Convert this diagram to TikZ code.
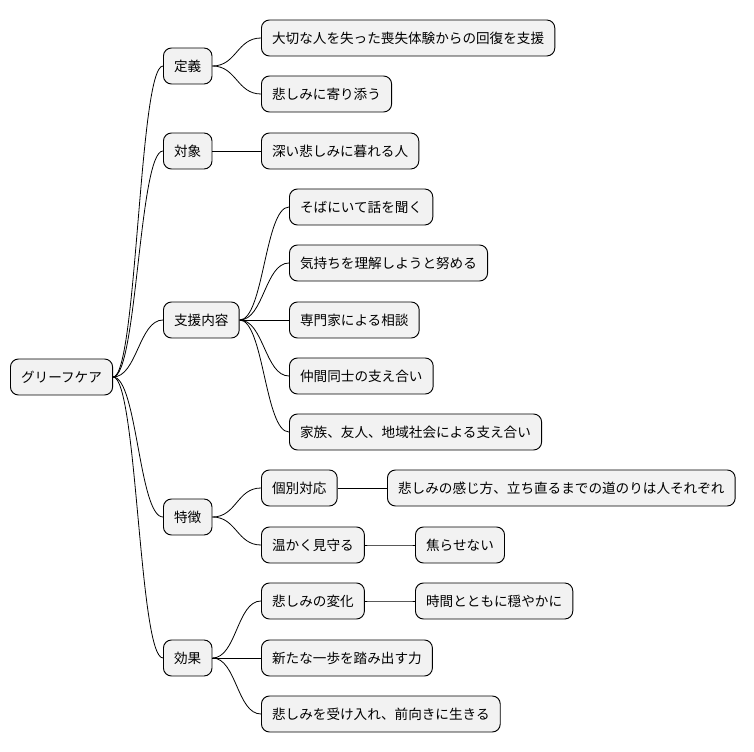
\documentclass[tikz,border=0pt]{standalone}
\usepackage{fontspec}
\newfontfamily\jp{Noto Sans CJK JP}
\begin{document}
\begin{tikzpicture}[x=0.75pt,y=-0.75pt,font=\jp\fontsize{10.2}{12}\selectfont,
  topic/.style={draw,rounded corners=6pt,fill=gray!10,minimum height=27pt,inner xsep=8pt,anchor=west,line width=0.7pt},
  link/.style={line width=0.6pt}]

\useasboundingbox (0,0) rectangle (754,752);

\node [topic] (root) at (10,377) {グリーフケア};

\node [topic] (def) at (163,66) {定義};
\node [topic] (def_A) at (261,38) {大切な人を失った喪失体験からの回復を支援};
\node [topic] (def_B) at (261,94) {悲しみに寄り添う};

\node [topic] (tgt) at (163,151) {対象};
\node [topic] (tgt_A) at (261,151) {深い悲しみに暮れる人};

\node [topic] (sup) at (163,320) {支援内容};
\node [topic] (sup_A) at (289,207) {そばにいて話を聞く};
\node [topic] (sup_B) at (289,263) {気持ちを理解しようと努める};
\node [topic] (sup_C) at (289,320) {専門家による相談};
\node [topic] (sup_D) at (289,376) {仲間同士の支え合い};
\node [topic] (sup_E) at (289,432) {家族、友人、地域社会による支え合い};

\node [topic] (feat) at (163,517) {特徴};
\node [topic] (feat_A) at (261,488) {個別対応};
\node [topic] (feat_A1) at (387,488) {悲しみの感じ方、立ち直るまでの道のりは人それぞれ};
\node [topic] (feat_B) at (261,545) {温かく見守る};
\node [topic] (feat_B1) at (415,545) {焦らせない};

\node [topic] (eff) at (163,658) {効果};
\node [topic] (eff_A) at (261,601) {悲しみの変化};
\node [topic] (eff_A1) at (415,601) {時間とともに穏やかに};
\node [topic] (eff_B) at (261,658) {新たな一歩を踏み出す力};
\node [topic] (eff_C) at (261,714) {悲しみを受け入れ、前向きに生きる};

\foreach \a/\b in {root/def,root/tgt,root/sup,root/feat,root/eff,
  def/def_A,def/def_B,tgt/tgt_A,
  sup/sup_A,sup/sup_B,sup/sup_C,sup/sup_D,sup/sup_E,
  feat/feat_A,feat/feat_B,feat_A/feat_A1,feat_B/feat_B1,
  eff/eff_A,eff/eff_B,eff/eff_C,eff_A/eff_A1}
  \draw [link] (\a.east) .. controls +(24,0) and +(-24,0) .. (\b.west);
\end{tikzpicture}
\end{document}
